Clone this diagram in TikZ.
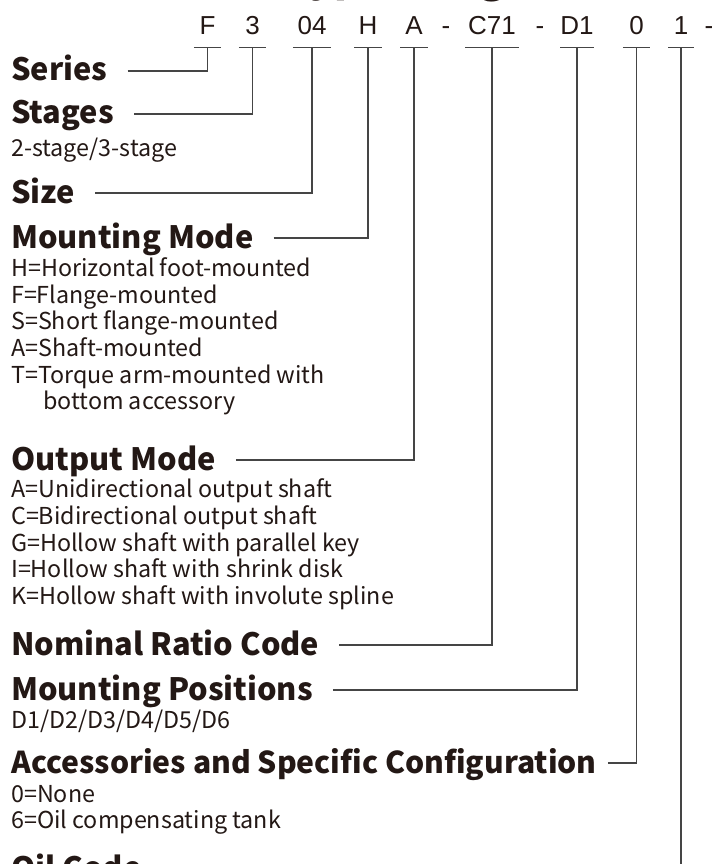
\documentclass[tikz,border=0pt]{standalone}
\usepackage{fontspec}
\newfontfamily\headfont{Noto Sans CJK SC}
\newfontfamily\codefont{Liberation Sans}
\usetikzlibrary{positioning}
\definecolor{ink}{HTML}{231815}
\definecolor{wirecol}{HTML}{454545}
\tikzset{code/.style={font=\codefont\fontsize{26}{26}\selectfont,anchor=base,inner xsep=0pt,inner ysep=12pt,text depth=0pt,text=ink}}
\tikzset{head/.style={font=\headfont\bfseries\fontsize{30.8}{32}\selectfont,anchor=base west,inner sep=0pt,text=ink}}
\tikzset{desc/.style={font=\headfont\fontsize{23.3}{26}\selectfont,anchor=base west,inner sep=0pt,text=ink}}
\tikzset{lead/.style={draw=wirecol,line width=1.1pt}}

\begin{document}
\begin{tikzpicture}[x=1pt,y=-1pt]
      \fill[white] (0,0) rectangle (716,864);
      \useasboundingbox (0,0) rectangle (716,864);

      % title, cut by the page edge
      \node[head,font=\headfont\bfseries\fontsize{40}{40}\selectfont](title) at (286,-7){Type Designation};

      % type code
      \foreach \nm/\x/\w/\txt in {F/207.5/27/F,3/252.5/27/3,04/312/38/04,H/368/27/H,A/414/27/A,C/492/53/C71,D/577/32/D1,0/636.5/27/0,1/681/25/1}{
        \node[code,minimum width=\w pt](code\nm) at (\x,35){\txt};
        \draw[lead] (code\nm.south west) -- (code\nm.south east);
      }
      \node[code](dashA) at (446,35){-};
      \node[code](dashB) at (540,35){-};
      \node[code](dashC) at (709,35){-};

      % headings and their meanings
      \node[head](series) at (11,81){Series};
      \node[head](stages) at (11,124){Stages};
      \node[desc](stages1) at (11,156){2-stage/3-stage};
      \node[head](size) at (11,203){Size};
      \node[head](mount) at (11,248){Mounting Mode};
      \foreach \y/\t [count=\i] in {276/H=Horizontal foot-mounted,303/F=Flange-mounted,329/S=Short flange-mounted,356/A=Shaft-mounted,383/T=Torque arm-mounted with}
        \node[desc](mount\i) at (11,\y){\t};
      \node[desc](mount6) at (43,409){bottom accessory};
      \node[head](output) at (11,470){Output Mode};
      \foreach \y/\t [count=\i] in {497/A=Unidirectional output shaft,524/C=Bidirectional output shaft,551/G=Hollow shaft with parallel key,577/I=Hollow shaft with shrink disk,604/K=Hollow shaft with involute spline}
        \node[desc](output\i) at (11,\y){\t};
      \node[head](ratio) at (11,655){Nominal Ratio Code};
      \node[head](positions) at (11,700){Mounting Positions};
      \node[desc](positions1) at (11,728){D1/D2/D3/D4/D5/D6};
      \node[head,font=\headfont\bfseries\fontsize{30.1}{32}\selectfont](accessory) at (11,773){Accessories and Specific Configuration};
      \node[desc](accessory1) at (11,802){0=None};
      \node[desc](accessory2) at (11,828){6=Oil compensating tank};
      \node[head](oil) at (11,879){Oil Code};

      % leaders
      \draw[lead] ([shift={(20pt,10pt)}]series.base east) -| (codeF.south);
      \draw[lead] ([shift={(20pt,10pt)}]stages.base east) -| (code3.south);
      \draw[lead] ([shift={(20pt,10pt)}]size.base east) -| (code04.south);
      \draw[lead] ([shift={(20pt,10pt)}]mount.base east) -| (codeH.south);
      \draw[lead] ([shift={(20pt,10pt)}]output.base east) -| (codeA.south);
      \draw[lead] ([shift={(20pt,10pt)}]ratio.base east) -| (codeC.south);
      \draw[lead] ([shift={(20pt,10pt)}]positions.base east) -| (codeD.south);
      \draw[lead] ([shift={(11pt,10pt)}]accessory.base east) -| (code0.south);
      \draw[lead] ([shift={(20pt,10pt)}]oil.base east) -| (code1.south);
    \end{tikzpicture}
\end{document}
